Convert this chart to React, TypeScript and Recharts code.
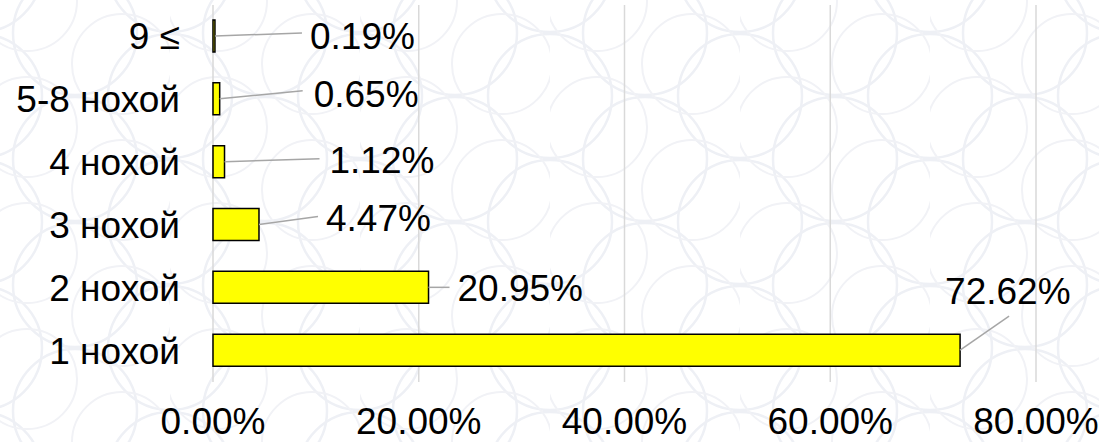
import { BarChart, Bar, XAxis, YAxis, CartesianGrid, LabelList } from "recharts";

const categories = ["9 ≤", "5-8 нохой", "4 нохой", "3 нохой", "2 нохой", "1 нохой"];
const shares = [0.19, 0.65, 1.12, 4.47, 20.95, 72.62];
const xTicks = [0, 20, 40, 60, 80];

// label placement relative to bar end / bar centre: leader end (lx, ly), text left-centre (tx, ty)
const labelPlacement = [
  { lx: 87, ly: -3, tx: 95, ty: 0 },
  { lx: 83, ly: -8, tx: 94, ty: -5 },
  { lx: 95, ly: -3, tx: 105, ty: -2 },
  { lx: 59, ly: -8, tx: 67, ty: -6 },
  { lx: 21, ly: 0, tx: 29, ty: 1 },
  { lx: 49, ly: -34, tx: -15, ty: -59 },
];

const data = categories.map((name, i) => ({ name, value: shares[i] }));

const FONT = '"Liberation Sans", Arial, sans-serif';
const FS = 37;

function YTick({ y, payload }: any) {
  return (
    <text x={180} y={y} dy="0.35em" textAnchor="end" fontFamily={FONT} fontSize={FS} fill="#000">
      {payload.value}
    </text>
  );
}

function XTick({ x, payload }: any) {
  return (
    <text x={x} y={434} textAnchor="middle" fontFamily={FONT} fontSize={FS} fill="#000">
      {`${Number(payload.value).toFixed(2)}%`}
    </text>
  );
}

function ValueLabel(props: any) {
  const { x, y, width, height, value } = props;
  let idx = props.index;
  if (idx === undefined) idx = shares.indexOf(Number(value));
  const p = labelPlacement[idx] ?? { lx: 10, ly: 0, tx: 16, ty: 0 };
  const ex = Number(x) + Number(width);
  const cy = Number(y) + Number(height) / 2;
  return (
    <g>
      <line x1={ex} y1={cy} x2={ex + p.lx} y2={cy + p.ly} stroke="#a6a6a6" strokeWidth={1.5} />
      <text
        x={ex + p.tx}
        y={cy + p.ty}
        dy="0.35em"
        textAnchor="start"
        fontFamily={FONT}
        fontSize={FS}
        fill="#000"
      >
        {`${Number(value).toFixed(2)}%`}
      </text>
    </g>
  );
}

function Backdrop() {
  return (
    <svg width={1099} height={442} style={{ position: "absolute", left: 0, top: 0 }}>
      <defs>
        <pattern id="rings" width={190} height={126} patternUnits="userSpaceOnUse" x={-20} y={-30}>
          {[
            [0, 0],
            [95, 63],
            [190, 0],
            [0, 126],
            [190, 126],
            [95, -63],
            [95, 189],
          ].map(([cx, cy], i) => (
            <circle key={i} cx={cx} cy={cy} r={62} fill="none" stroke="#eef0f5" strokeWidth={2.5} />
          ))}
          {[
            [47, 31],
            [142, 94],
            [142, -32],
            [47, 157],
          ].map(([cx, cy], i) => (
            <circle key={"b" + i} cx={cx} cy={cy} r={50} fill="none" stroke="#f1f2f6" strokeWidth={2} />
          ))}
        </pattern>
      </defs>
      <rect width={1099} height={442} fill="#ffffff" />
      <rect width={1099} height={442} fill="url(#rings)" />
    </svg>
  );
}

export default function App() {
  return (
    <div style={{ position: "absolute", left: 0, top: 0, width: 1099, height: 442 }}>
      <Backdrop />
      <div style={{ position: "absolute", left: 0, top: 0 }}>
        <BarChart
          width={1099}
          height={442}
          data={data}
          layout="vertical"
          margin={{ top: 5, right: 63, bottom: 0, left: 0 }}
          barSize={32}
        >
          <CartesianGrid horizontal={false} stroke="#d9d9d9" strokeWidth={1.5} />
          <XAxis
            type="number"
            domain={[0, 80]}
            ticks={xTicks}
            height={60}
            axisLine={false}
            tickLine={false}
            tick={<XTick />}
            interval={0}
          />
          <YAxis
            type="category"
            dataKey="name"
            width={213}
            axisLine={false}
            tickLine={false}
            tick={<YTick />}
            interval={0}
          />
          <Bar dataKey="value" fill="#ffff00" stroke="#000" strokeWidth={1.5} isAnimationActive={false}>
            <LabelList dataKey="value" content={<ValueLabel />} />
          </Bar>
        </BarChart>
      </div>
    </div>
  );
}
